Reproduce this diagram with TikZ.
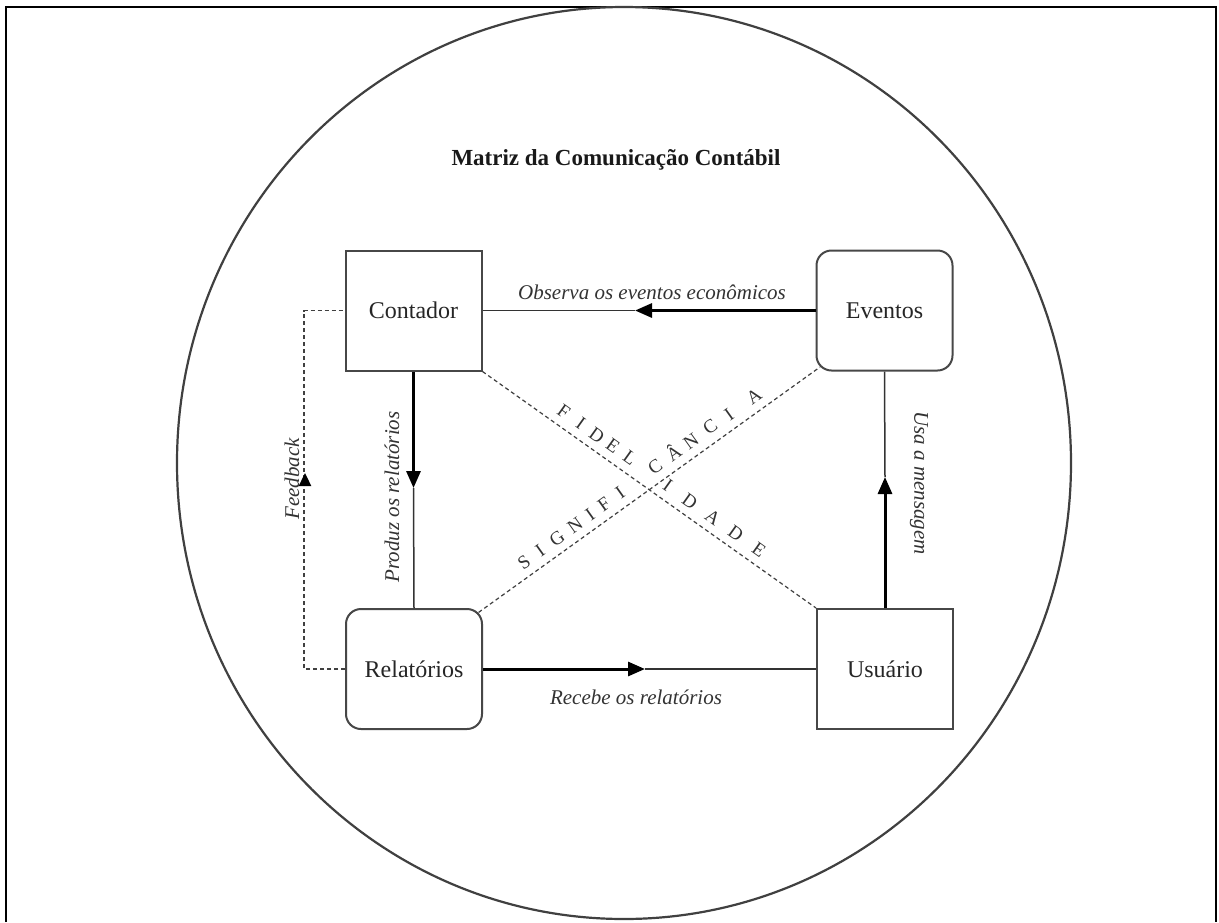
\documentclass[tikz,border=0pt]{standalone}
\usepackage{fontspec}
\setmainfont{Liberation Serif}
\usetikzlibrary{arrows.meta,calc}
\begin{document}
\begin{tikzpicture}[x=1pt,y=-1pt,
  box/.style={draw=black!72, line width=2pt, minimum width=136pt, minimum height=120pt, inner sep=0pt, font=\fontsize{24}{28}\selectfont, text=black!85},
  rbox/.style={box, rounded corners=15pt},
  thinline/.style={draw=black!80, line width=1.5pt},
  thickline/.style={draw=black, line width=3pt, -{Triangle[length=17pt,width=14pt]}},
  lbl/.style={font=\fontsize{21}{25}\selectfont\itshape, text=black!80, inner sep=0pt},
  dline/.style={draw=black!75, line width=1.2pt, dash pattern=on 4pt off 3pt},
  letter/.style={font=\fontsize{19}{21}\selectfont, text=black!80, inner sep=0pt, text height=13pt, text depth=0pt}
]
\useasboundingbox (0,0) rectangle (1219,922);
\fill[white] (0,0) rectangle (1219,922);
\draw[line width=1.8pt] (6,922) -- (6,7) -- (1216,7) -- (1216,922);
\draw[black!75, line width=2.2pt] (624,463) ellipse [x radius=447pt, y radius=456pt];

\node[font=\fontsize{23}{27}\selectfont\bfseries, text=black!90] (title) at (616,160) {Matriz da Comunicação Contábil};

\node[box] (con) at (413.5,310.5) {Contador};
\node[rbox] (eve) at (884.5,310.5) {Eventos};
\node[rbox] (rel) at (414,669) {Relatórios};
\node[box] (usu) at (885,669) {Usuário};

\coordinate (m1) at (635,310.5);
\draw[thickline] (eve.west) -- (m1);
\draw[thinline] (m1) -- (con.east);

\coordinate (m2) at (413.5,488);
\draw[thickline] (con.south) -- (m2);
\draw[thinline] (m2) -- (rel.north);

\coordinate (m3) at (645,669);
\draw[thickline] (rel.east) -- (m3);
\draw[thinline] (m3) -- (usu.west);

\coordinate (m4) at (885,477);
\draw[thickline] (usu.north) -- (m4);
\draw[thinline] (m4) -- (eve.south);

\draw[dline] (rel.west) -- ++(-41,0) |- (con.west);
\coordinate (fb) at (305,473);
\draw[line width=2.4pt, -{Triangle[length=13pt,width=12pt]}] ($(fb)+(0,13)$) -- (fb);

\draw[dline] (con.south east) -- (usu.north west);
\draw[dline] ($(rel.north east)+(-4.4,4.4)$) -- ($(eve.south west)+(4.4,-4.4)$);

\node[lbl] (l1) at (652,292) {Observa os eventos econômicos};
\node[lbl, rotate=90] (l2) at (392,497) {Produz os relatórios};
\node[lbl, rotate=90] (l3) at (292,479) {Feedback};
\node[lbl, rotate=-90] (l4) at (919,483) {Usa a mensagem};
\node[lbl] (l5) at (636,697) {Recebe os relatórios};

\foreach \l/\x/\y [count=\i] in {F/561/415, I/578/427, D/594/439, E/610/450, L/627/462, I/665/489, D/687/505, A/710/521, D/733/537, E/756/554}
  \node[letter, rotate=-35.5] (f\i) at ($(\x,\y)+(3,-4)$) {\l};
\foreach \l/\x/\y [count=\i] in {S/527/566, I/543/554, G/560/542, N/578/529, I/593/518, F/607/508, I/623/496, C/658/471, Â/677/457, N/694/445, C/713/431, I/732/418, A/757/400}
  \node[letter, rotate=35.6] (s\i) at ($(\x,\y)+(-3,-4)$) {\l};
\end{tikzpicture}
\end{document}
